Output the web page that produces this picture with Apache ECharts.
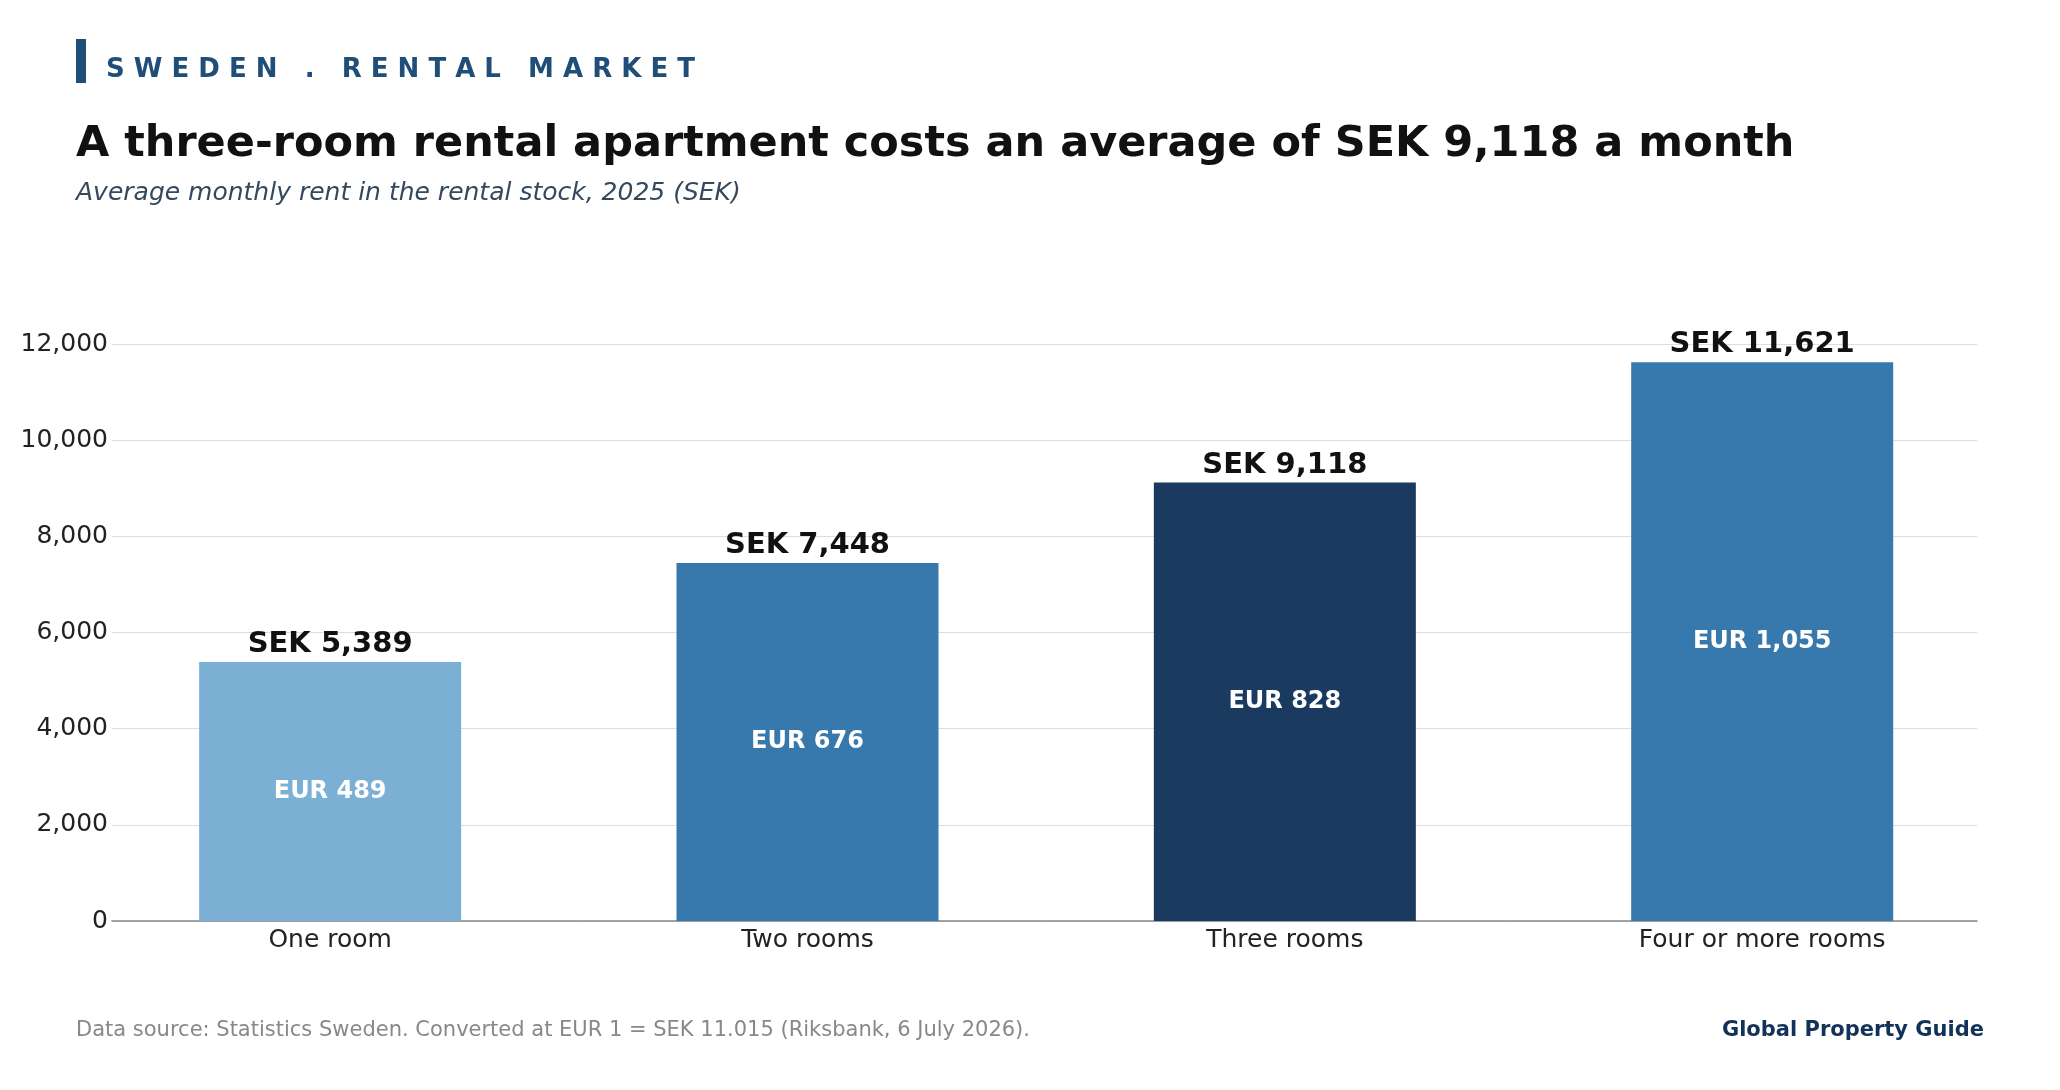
<!DOCTYPE html>
<html><head><meta charset="utf-8">
<script src="https://cdn.jsdelivr.net/npm/echarts@6/dist/echarts.min.js"></script>
<style>html,body{margin:0;padding:0;background:#fff}#c{width:2060px;height:1090px}</style>
</head><body><div id="c"></div>
<script>
const categories = ['One room','Two rooms','Three rooms','Four or more rooms'];
const sekValues = [5389, 7448, 9118, 11621];
const eurLabels = ['EUR 489','EUR 676','EUR 828','EUR 1,055'];
const barColors = ['#7bafd4','#3778ad','#1a3a5f','#3778ad'];
const F = 'DejaVu Sans';
const chart = echarts.init(document.getElementById('c'));
chart.setOption({
  animation:false,
  textStyle:{fontFamily:F},
  grid:{left:112,right:83,top:344,bottom:169},
  xAxis:{type:'value',min:-0.457,max:3.45,
    axisLine:{show:true,onZero:false,lineStyle:{color:'#888',width:1.5}},axisTick:{show:false},
    splitLine:{show:false},
    axisLabel:{customValues:[0,1,2,3],fontSize:25,color:'#222',margin:7,fontFamily:F,
      formatter:v=>categories[Math.round(v)]}},
  yAxis:{type:'value',min:0,max:12000,interval:2000,
    axisLine:{show:false},axisTick:{show:false},
    axisLabel:{fontSize:25,color:'#222',margin:4,fontFamily:F,formatter:v=>v.toLocaleString('en-US')},
    splitLine:{lineStyle:{color:'#dddddd'}}},
  series:[{type:'bar',barWidth:262,
    data:sekValues.map((v,i)=>({value:[i,v],itemStyle:{color:barColors[i]}})),
    label:{show:true,position:'top',distance:3,fontSize:29,fontWeight:'bold',color:'#111',fontFamily:F,
      formatter:p=>'SEK '+p.value[1].toLocaleString('en-US')}},
   {type:'bar',barWidth:262,barGap:'-100%',silent:true,
    data:sekValues.map((v,i)=>[i,v]),
    itemStyle:{color:'transparent'},
    label:{show:true,position:'inside',fontSize:24,fontWeight:'bold',color:'#fff',fontFamily:F,
      formatter:p=>eurLabels[p.dataIndex]}}],
  graphic:[
    {type:'rect',shape:{x:76,y:39,width:10,height:44},style:{fill:'#1f4e79'}},
    {type:'text',left:106,top:57,style:{text:'S W E D E N   .   R E N T A L   M A R K E T',font:'bold 26px "DejaVu Sans"',fill:'#1f4e79'}},
    {type:'text',left:76,top:123,style:{text:'A three-room rental apartment costs an average of SEK 9,118 a month',font:'bold 43px "DejaVu Sans"',fill:'#111'}},
    {type:'text',left:76,top:181,style:{text:'Average monthly rent in the rental stock, 2025 (SEK)',font:'italic 25px "DejaVu Sans"',fill:'#34495e'}},
    {type:'text',left:76,top:1020,style:{text:'Data source: Statistics Sweden. Converted at EUR 1 = SEK 11.015 (Riksbank, 6 July 2026).',font:'21px "DejaVu Sans"',fill:'#888'}},
    {type:'text',right:76,top:1020,style:{text:'Global Property Guide',font:'bold 21px "DejaVu Sans"',fill:'#13325a'}}
  ]
});
</script></body></html>
